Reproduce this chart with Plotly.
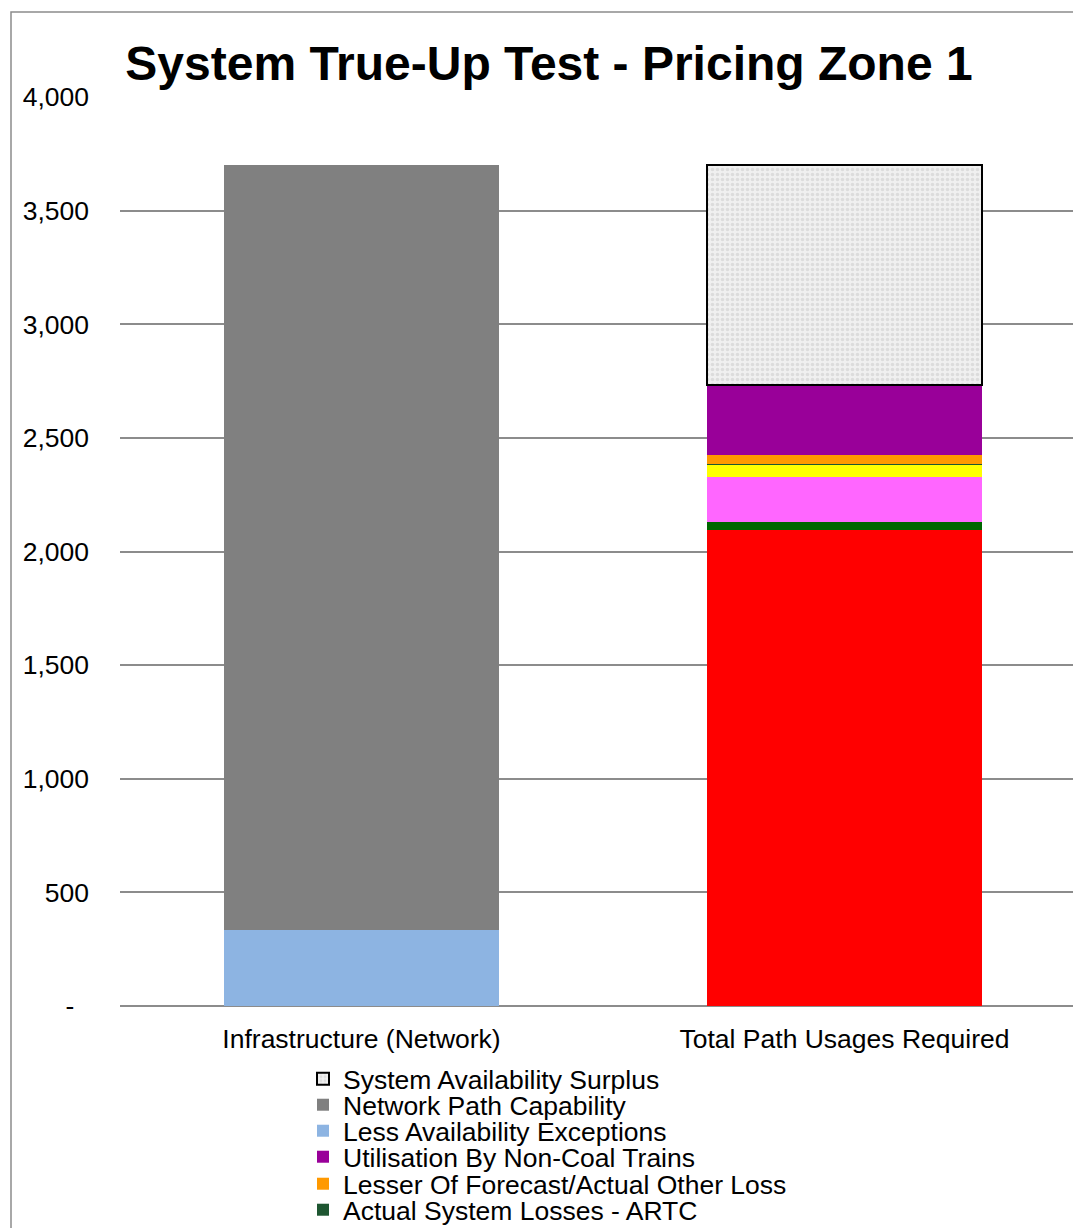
import plotly.graph_objects as go

categories = ["Infrastructure (Network)", "Total Path Usages Required"]

# series values (left bar, right bar)
less_availability_exceptions = [334, None]
network_path_capability = [3366, None]
contracted_path_usage = [None, 2095]
system_losses_operator = [None, 35]
cancellations_loss = [None, 198]
maintenance_loss = [None, 53]
system_losses_artc = [None, 4]
other_loss = [None, 40]
non_coal_utilisation = [None, 308]
availability_surplus = [None, 968]

y_tickvals = [0, 500, 1000, 1500, 2000, 2500, 3000, 3500, 4000]
y_ticktext = ["-\u00a0\u00a0", "500", "1,000", "1,500", "2,000", "2,500", "3,000", "3,500", "4,000"]

FONT = "Liberation Sans, Arial, sans-serif"

fig = go.Figure()

def add_bar(name, values, color, legend=None, line_color=None, line_width=0, pattern=None):
    marker = dict(color=color, line=dict(width=line_width, color=line_color or color))
    if pattern:
        marker["pattern"] = pattern
    fig.add_trace(go.Bar(
        x=categories, y=values, name=name, marker=marker,
        showlegend=legend is not None, legend=legend or "legend",
        hoverinfo="name+y",
    ))

add_bar("Less Availability Exceptions", less_availability_exceptions, "#8DB4E2", legend="legend3")
add_bar("Network Path Capability", network_path_capability, "#808080", legend="legend2")
add_bar("Contracted Path Usage", contracted_path_usage, "#FF0000")
add_bar("Actual System Losses - Operator", system_losses_operator, "#006600")
add_bar("Lesser Of Forecast/Actual Cancellations", cancellations_loss, "#FF66FF")
add_bar("Lesser Of Forecast/Actual Maintenance Loss", maintenance_loss, "#FFFF00")
add_bar("Actual System Losses - ARTC", system_losses_artc, "#1E5631", legend="legend6")
add_bar("Lesser Of Forecast/Actual Other Loss", other_loss, "#FF9900", legend="legend5")
add_bar("Utilisation By Non-Coal Trains", non_coal_utilisation, "#990099", legend="legend4")
add_bar("System Availability Surplus", availability_surplus, "#EDEDED", legend="legend",
        line_color="#000000", line_width=2,
        pattern=dict(shape=".", fgcolor="#C8C8C8", bgcolor="#F0F0F0", size=5, solidity=0.4))

W, H = 1081, 1228
row_centers = [1071, 1097, 1123, 1149, 1176, 1202]
legend_left_px = 295

legend_common = dict(
    xref="container", yref="container", xanchor="left", yanchor="middle",
    font=dict(family=FONT, size=26.5, color="#000000"),
    bgcolor="rgba(0,0,0,0)", borderwidth=0,
    itemclick=False, itemdoubleclick=False,
)
legends = {}
for i, py in enumerate(row_centers):
    key = "legend" if i == 0 else f"legend{i + 1}"
    legends[key] = dict(x=legend_left_px / W, y=1 - py / H, **legend_common)

fig.update_layout(
    width=W, height=H,
    margin=dict(l=112, r=3, t=89, b=230, autoexpand=False),
    paper_bgcolor="white", plot_bgcolor="white",
    barmode="stack", bargap=0.429,
    font=dict(family=FONT, size=26.5, color="#000000"),
    title=dict(text="<b>System True-Up Test - Pricing Zone 1</b>",
               x=541 / W, xref="container", xanchor="center",
               y=1 - 55 / H, yref="container", yanchor="middle",
               font=dict(family=FONT, size=48, color="#000000")),
    xaxis=dict(showgrid=False, showline=False, ticks="", ticklabelstandoff=14,
               automargin=False,
               tickfont=dict(family=FONT, size=26.5, color="#000000")),
    yaxis=dict(range=[0, 4000], tickvals=y_tickvals, ticktext=y_ticktext,
               showgrid=True, gridcolor="#8C8C8C", gridwidth=1.5,
               zeroline=True, zerolinecolor="#8C8C8C", zerolinewidth=2,
               showline=False, ticks="", ticklabelstandoff=30, automargin=False,
               tickfont=dict(family=FONT, size=26.5, color="#000000")),
    shapes=[dict(type="rect", xref="paper", yref="paper",
                 x0=(11 - 120) / 966, x1=1.05, y0=(1006 - 12) / 909, y1=-0.3,
                 line=dict(color="#8C8C8C", width=1.5), fillcolor="rgba(0,0,0,0)",
                 layer="below")],
    **legends,
)

fig.write_html("out.html")
